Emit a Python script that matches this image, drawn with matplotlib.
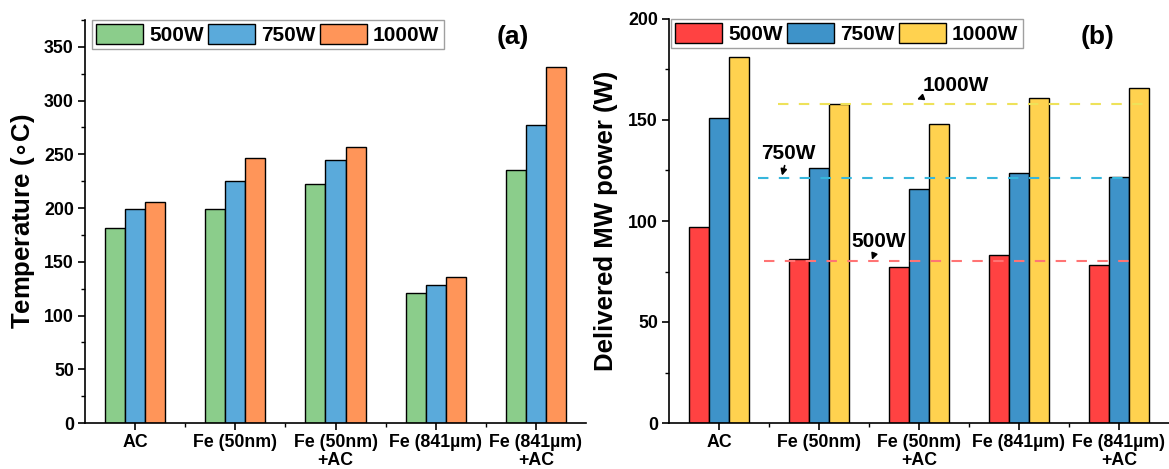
import matplotlib
matplotlib.use("Agg")
import matplotlib.pyplot as plt
from matplotlib.ticker import MultipleLocator, FixedLocator
import numpy as np

plt.rcParams['font.family'] = ['Liberation Sans', 'DejaVu Sans']
plt.rcParams['font.weight'] = 'bold'

# data
samples = ['AC', 'Fe (50nm)', 'Fe (50nm)\n+AC', 'Fe (841\u00b5m)', 'Fe (841\u00b5m)\n+AC']
powers = ['500W', '750W', '1000W']

temp_500 = [181, 199, 222, 121, 235]
temp_750 = [199, 225, 245, 128, 277]
temp_1000 = [206, 247, 257, 136, 331]

mw_500 = [97, 81, 77, 83, 78]
mw_750 = [151, 126, 116, 124, 122]
mw_1000 = [181, 158, 148, 161, 166]

# reference (input power) levels drawn as dashed lines
ref_levels = [80, 121.5, 158]

colors_a = ['#8bcd8b', '#5aaadb', '#ff9559']
colors_b = ['#ff4242', '#3e93c9', '#ffd24f']
ref_colors = ['#ff7474', '#36b6dc', '#eee25a']

x = np.arange(len(samples))
w = 0.2

fig = plt.figure(figsize=(11.69, 4.69), dpi=100)
ax1 = fig.add_axes([85/1169, 46/469, 501/1169, 403/469])
ax2 = fig.add_axes([669/1169, 46/469, 500/1169, 404/469])


def style_axis(ax):
    for s in ['top', 'right']:
        ax.spines[s].set_visible(False)
    for s in ['left', 'bottom']:
        ax.spines[s].set_linewidth(1.2)
    ax.set_xlim(-0.5, 4.5)
    ax.set_xticks(x)
    ax.set_xticklabels(samples, fontsize=12.8, fontweight='bold', linespacing=1.05)
    ax.xaxis.set_minor_locator(FixedLocator(x[:-1] + 0.5))
    ax.tick_params(axis='both', which='major', direction='out', length=5, width=1.2,
                   labelsize=12.8, pad=3)
    ax.tick_params(axis='both', which='minor', direction='out', length=3, width=1.0)
    for lab in ax.get_yticklabels():
        lab.set_fontweight('bold')


# (a) temperature
for i, (vals, c, lab) in enumerate(zip([temp_500, temp_750, temp_1000], colors_a, powers)):
    ax1.bar(x + (i - 1) * w, vals, w, color=c, edgecolor='black', linewidth=1.0, label=lab)
ax1.set_ylim(0, 375)
ax1.yaxis.set_major_locator(MultipleLocator(50))
ax1.yaxis.set_minor_locator(MultipleLocator(25))
style_axis(ax1)
ax1.set_ylabel('Temperature ($\\mathbf{\\circ}$C)', fontsize=18.5, fontweight='bold', labelpad=5)
ax1.text(0.822, 0.958, '(a)', transform=ax1.transAxes, fontsize=19, fontweight='bold',
         ha='left', va='center')
leg1 = ax1.legend(loc='upper left', ncol=3, fontsize=15, frameon=True, fancybox=False,
                  edgecolor='#888888', handlelength=2.25, handleheight=1.1, handletextpad=0.3,
                  columnspacing=0.2, borderpad=0.2, borderaxespad=0.0,
                  bbox_to_anchor=(0.014, 1.0))
leg1.get_frame().set_linewidth(1.0)

# (b) delivered MW power
for i, (vals, c, lab) in enumerate(zip([mw_500, mw_750, mw_1000], colors_b, powers)):
    ax2.bar(x + (i - 1) * w, vals, w, color=c, edgecolor='black', linewidth=1.0, label=lab)

line_x = [(0.45, 4.16), (0.39, 4.1), (0.59, 4.3)]
for lvl, c, (x0, x1) in zip(ref_levels, ref_colors, line_x):
    ax2.plot([x0, x1], [lvl, lvl], color=c, linestyle=(0, (5, 5)), linewidth=1.5, zorder=3)

ax2.annotate('500W', xy=(1.53, 80.8), xytext=(1.6, 90), fontsize=15, fontweight='bold',
             ha='center', va='center',
             arrowprops=dict(arrowstyle='-|>', color='black', lw=1.2, mutation_scale=9,
                             shrinkA=9, shrinkB=0))
ax2.annotate('750W', xy=(0.63, 122.5), xytext=(0.69, 133.5), fontsize=15, fontweight='bold',
             ha='center', va='center',
             arrowprops=dict(arrowstyle='-|>', color='black', lw=1.2, mutation_scale=9,
                             shrinkA=9, shrinkB=0))
ax2.annotate('1000W', xy=(1.98, 160.2), xytext=(2.37, 167.3), fontsize=15, fontweight='bold',
             ha='center', va='center',
             arrowprops=dict(arrowstyle='-|>', color='black', lw=1.2, mutation_scale=9,
                             shrinkA=23, shrinkB=0))

ax2.set_ylim(0, 200)
ax2.yaxis.set_major_locator(MultipleLocator(50))
ax2.yaxis.set_minor_locator(MultipleLocator(25))
style_axis(ax2)
ax2.set_ylabel('Delivered MW power (W)', fontsize=18.5, fontweight='bold', labelpad=7)
ax2.text(0.824, 0.955, '(b)', transform=ax2.transAxes, fontsize=19, fontweight='bold',
         ha='left', va='center')
leg2 = ax2.legend(loc='upper left', ncol=3, fontsize=15, frameon=True, fancybox=False,
                  edgecolor='#888888', handlelength=2.25, handleheight=1.1, handletextpad=0.3,
                  columnspacing=0.2, borderpad=0.2, borderaxespad=0.0,
                  bbox_to_anchor=(0.004, 1.0))
leg2.get_frame().set_linewidth(1.0)

fig.savefig('out.png', dpi=100)
